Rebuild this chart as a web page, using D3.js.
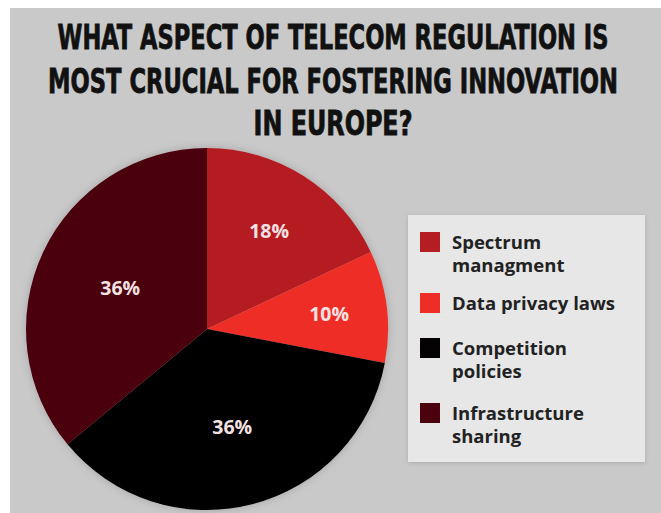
<!DOCTYPE html>
<html>
<head>
<meta charset="utf-8">
<script src="https://cdn.jsdelivr.net/npm/d3@7"></script>
<style>
  html, body { margin: 0; padding: 0; background: #ffffff; }
  svg { display: block; }
</style>
</head>
<body>
<svg id="chart" width="661" height="513"></svg>
<script>
// Survey answers, clockwise from 12 o'clock
const categories = ["Spectrum managment", "Data privacy laws", "Competition policies", "Infrastructure sharing"];
const shares = [18, 10, 36, 36];
const legendLines = [["Spectrum", "managment"], ["Data privacy laws"], ["Competition", "policies"], ["Infrastructure", "sharing"]];
const titleLines = ["WHAT ASPECT OF TELECOM REGULATION IS", "MOST CRUCIAL FOR FOSTERING INNOVATION", "IN EUROPE?"];

const sliceColors = ["#b41d22", "#ee2d27", "#050203", "#4b020c"];
const labelRadius = [0.64, 0.68, 0.56, 0.53]; // fraction of pie radius for each % label

const W = 661, H = 513;
const svg = d3.select("#chart");

// card background
svg.append("rect").attr("x", 10).attr("y", 8).attr("width", W - 10).attr("height", H - 8).attr("fill", "#c9c9c9");

// title: narrow bold face, stretched a little vertically
const titleY = [49, 93, 135];
const titleG = svg.append("g");
titleG.selectAll("text").data(titleLines).join("text")
  .attr("transform", (d, i) => `translate(333,${titleY[i]}) scale(1,1.12)`)
  .attr("text-anchor", "middle")
  .attr("font-family", "'Liberation Sans Narrow', 'DejaVu Sans Condensed', 'Roboto Condensed', sans-serif")
  .attr("font-weight", "bold")
  .attr("font-size", 30)
  .attr("fill", "#111")
  .attr("stroke", "#111")
  .attr("stroke-width", 0.7)
  .text(d => d);
// fit each line to its measured width in the layout
const titleWidths = [551, 570, 159];
titleG.selectAll("text").each(function (d, i) {
  const w = this.getComputedTextLength();
  const sx = titleWidths[i] / w;
  d3.select(this).attr("transform", `translate(333,${titleY[i]}) scale(${sx},1.12)`);
});

// pie
const cx = 207, cy = 329, R = 181;
const defs = svg.append("defs");
const f = defs.append("filter").attr("id", "halo").attr("x", "-20%").attr("y", "-20%").attr("width", "140%").attr("height", "140%");
f.append("feGaussianBlur").attr("in", "SourceAlpha").attr("stdDeviation", 4).attr("result", "b");
f.append("feFlood").attr("flood-color", "#000").attr("flood-opacity", 0.18);
f.append("feComposite").attr("in2", "b").attr("operator", "in").attr("result", "s");
const m = f.append("feMerge");
m.append("feMergeNode").attr("in", "s");
m.append("feMergeNode").attr("in", "SourceGraphic");

const pie = d3.pie().sort(null).value(d => d)(shares);
const arc = d3.arc().innerRadius(0).outerRadius(R);
const color = d3.scaleOrdinal().domain(categories).range(sliceColors);

const g = svg.append("g").attr("transform", `translate(${cx},${cy})`);
g.append("g").attr("filter", "url(#halo)").selectAll("path").data(pie).join("path")
  .attr("d", arc)
  .attr("fill", (d, i) => color(categories[i]));

g.selectAll("text.pct").data(pie).join("text")
  .attr("class", "pct")
  .attr("transform", (d, i) => {
    const r = R * labelRadius[i];
    const la = d3.arc().innerRadius(r).outerRadius(r);
    return `translate(${la.centroid(d)})`;
  })
  .attr("text-anchor", "middle")
  .attr("dy", "0.36em")
  .attr("font-family", "'Open Sans', Roboto, sans-serif")
  .attr("font-weight", "bold")
  .attr("font-size", 19.5)
  .attr("fill", "#f6e2e2")
  .text(d => d.value + "%");

// legend
const lx = 408, ly = 215, lw = 237, lh = 247;
const lf = defs.append("filter").attr("id", "boxshadow").attr("x", "-10%").attr("y", "-10%").attr("width", "120%").attr("height", "120%");
lf.append("feDropShadow").attr("dx", 0).attr("dy", 1).attr("stdDeviation", 2).attr("flood-color", "#000").attr("flood-opacity", 0.15);
svg.append("rect").attr("x", lx).attr("y", ly).attr("width", lw).attr("height", lh)
  .attr("fill", "#e7e7e7").attr("filter", "url(#boxshadow)");

const itemTop = [232, 293, 338, 403];
const leg = svg.append("g").selectAll("g").data(categories).join("g")
  .attr("transform", (d, i) => `translate(${lx + 12},${itemTop[i]})`);
leg.append("rect").attr("width", 20).attr("height", 20)
  .attr("fill", d => color(d));
leg.each(function (d, i) {
  d3.select(this).selectAll("text").data(legendLines[i]).join("text")
    .attr("x", 32).attr("y", (t, j) => 17 + j * 23)
    .attr("font-family", "'Open Sans', Roboto, sans-serif")
    .attr("font-weight", 700)
    .attr("font-size", 18.5)
    .attr("fill", "#222")
    .text(t => t);
});
</script>
</body>
</html>
